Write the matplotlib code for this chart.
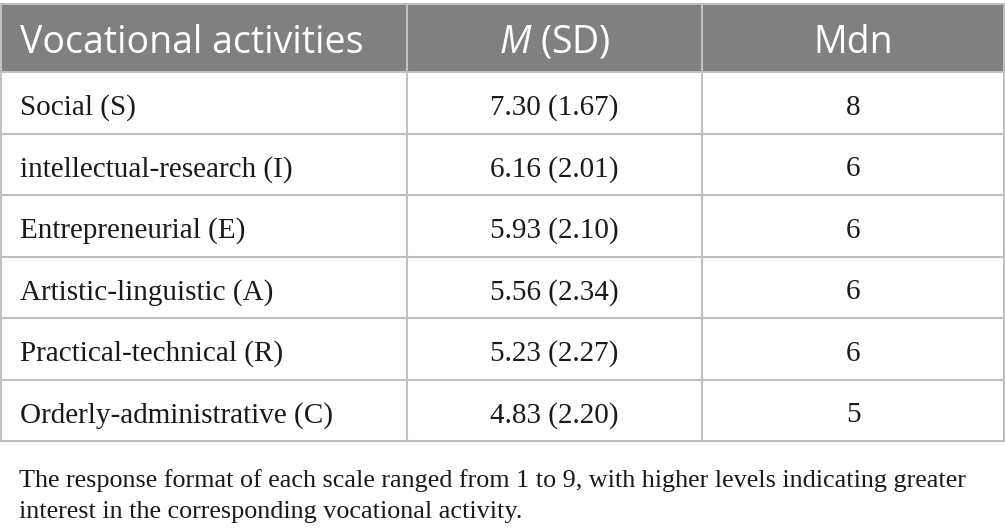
import matplotlib.pyplot as plt
from matplotlib.patches import Rectangle

plt.rcParams['mathtext.fontset'] = 'custom'
plt.rcParams['mathtext.rm'] = 'Open Sans'
plt.rcParams['mathtext.it'] = 'Open Sans:italic'

# table data
headers = ["Vocational activities", "$M$ (SD)", "Mdn"]
activities = ["Social (S)", "intellectual-research (I)", "Entrepreneurial (E)",
              "Artistic-linguistic (A)", "Practical-technical (R)", "Orderly-administrative (C)"]
means = [7.30, 6.16, 5.93, 5.56, 5.23, 4.83]
sds = [1.67, 2.01, 2.10, 2.34, 2.27, 2.20]
medians = [8, 6, 6, 6, 6, 5]
note_lines = ["The response format of each scale ranged from 1 to 9, with higher levels indicating greater",
              "interest in the corresponding vocational activity."]

W, H = 1005, 531
fig = plt.figure(figsize=(W / 100, H / 100), dpi=100)
ax = fig.add_axes([0, 0, 1, 1])
ax.set_xlim(0, W)
ax.set_ylim(H, 0)
ax.axis('off')

# layout in pixels
x_cols = [1, 407, 702, 1004]
top, head_bot = 4, 72
row_h = (441 - head_bot) / len(activities)
line_c = '#c0c0c0'
head_c = '#808080'
txt_c = '#1a1a1a'

ax.add_patch(Rectangle((x_cols[0], top), x_cols[-1] - x_cols[0], head_bot - top,
                       facecolor=head_c, edgecolor='none'))

# header text
hy = 53
ax.text(20, hy, headers[0], fontsize=27, family='Open Sans', color='white', ha='left', va='baseline')
ax.text((x_cols[1] + x_cols[2]) / 2, hy, headers[1], fontsize=27, family='Open Sans',
        color='white', ha='center', va='baseline')
ax.text((x_cols[2] + x_cols[3]) / 2, hy, headers[2], fontsize=27, family='Open Sans',
        color='white', ha='center', va='baseline')

# body rows
for i, name in enumerate(activities):
    y = head_bot + (i + 0.5) * row_h + 12
    ax.text(20, y, name, fontsize=21, family='Liberation Serif', color=txt_c, ha='left', va='baseline')
    ax.text((x_cols[1] + x_cols[2]) / 2, y, f"{means[i]:.2f} ({sds[i]:.2f})", fontsize=21,
            family='Liberation Serif', color=txt_c, ha='center', va='baseline')
    ax.text((x_cols[2] + x_cols[3]) / 2, y, str(medians[i]), fontsize=21,
            family='Liberation Serif', color=txt_c, ha='center', va='baseline')

# grid lines
bottom = head_bot + len(activities) * row_h
ax.plot([x_cols[0], x_cols[-1]], [top, top], color=line_c, lw=1.5)
for i in range(len(activities) + 1):
    yy = head_bot + i * row_h
    ax.plot([x_cols[0], x_cols[-1]], [yy, yy], color=line_c, lw=1.5)
for xx in x_cols:
    ax.plot([xx, xx], [top, bottom], color=line_c, lw=1.5)

for k, line in enumerate(note_lines):
    ax.text(19, 487 + 31 * k, line, fontsize=18.8, family='Liberation Serif', color=txt_c,
            ha='left', va='baseline')

fig.savefig('out.png', dpi=100)
